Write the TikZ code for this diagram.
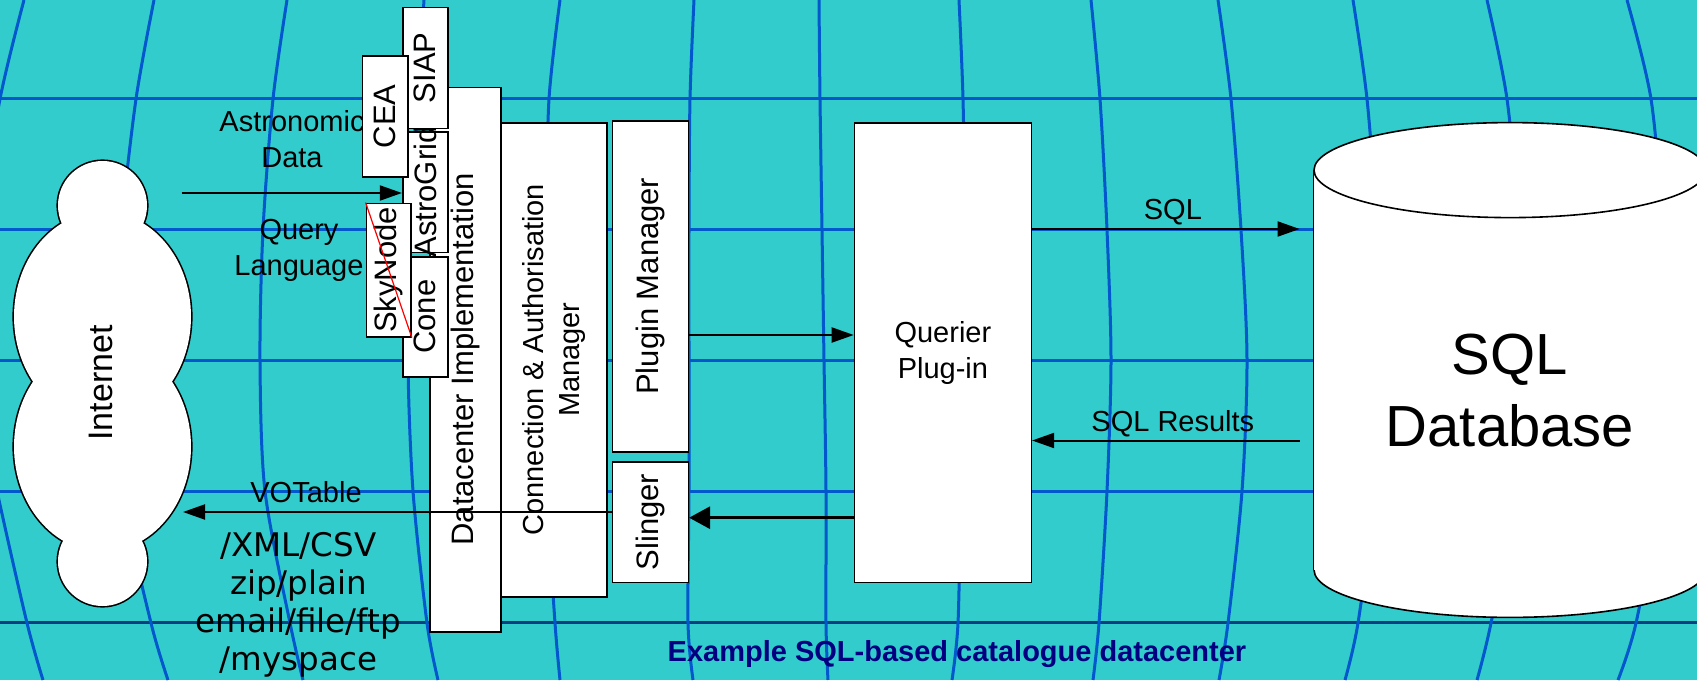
\documentclass[tikz,border=0pt]{standalone}
\usepackage{fontspec}
\setmainfont{Liberation Sans}
\newfontfamily\verdfont{DejaVu Sans}
\usepackage{tikz}
\usetikzlibrary{math,calc,arrows.meta}
\definecolor{SeaBg}{RGB}{51,204,204}
\definecolor{MeshBlue}{RGB}{0,88,204}
\definecolor{MeshDark}{RGB}{0,64,128}
\definecolor{CapNavy}{RGB}{0,0,128}
\tikzset{%
  px/.style={x=0.5pt,y=-0.5pt},
  mesh lines/.style={line width=1.5pt, draw=MeshBlue},
  tbox/.style={draw=black, fill=white, line width=0.8pt, inner sep=0pt},
  rbox/.style={tbox, rotate=90},
  flow/.style={line width=1pt, -{Triangle[length=11pt,width=7.5pt]}},
  bigflow/.style={line width=1.5pt, -{Triangle[length=10.5pt,width=11pt]}},
  lbl/.style={font=\fontsize{14.5}{18}\selectfont},
  slbl/.style={font=\fontsize{15.5}{18}\selectfont}
}

\begin{document}
\begin{tikzpicture}[px]
    \tikzmath{
      \picw=1697; \pich=680;
      \yastro=193;% query arrow
      \yplug=335;% plugin to querier
      \ysql=229;\yres=440.5;
      \yvo=512;\yslg=517.7;
    }
    % Backdrop.
    \useasboundingbox[fill=SeaBg] (0,0) rectangle (\picw,\pich);
    \clip (0,0) rectangle (\picw,\pich);
    % Mesh.
    \foreach \yy in {98.5,229.5,360.5,491.5}
      \draw[mesh lines,line width=1.7pt] (0,\yy) -- (\picw,\yy);
    \draw[mesh lines,line width=1.7pt,draw=MeshDark] (0,622.7) -- (\picw,622.7);
    \foreach \pa/\pb/\pc/\pd/\pe/\pf/\pg in {24/0/-20/-30/-3/27/43,
        154/136/121/112/122/151/168, 287/273/263/260/265/290/303,
        424/418/411/408/413/427/438, 560/549/546/545/547/555/560,
        694/690/689/689/689/688/693, 819/820/822/824/826/826/828,
        959/963/965/965/961/958/952, 1091/1100/1107/1111/1107/1099/1093,
        1218/1231/1241/1247/1242/1228/1219, 1353/1367/1377/1382/1375/1358/1345,
        1487/1507/1519/1525/1515/1491/1477, 1627/1651/1663/1670/1660/1636/1618}
      \draw[mesh lines] plot[smooth] coordinates
        {(\pa,0) (\pb,99) (\pc,230) (\pd,360) (\pe,491) (\pf,623) (\pg,680)};
    % Internet cloud.
    \foreach \cy/\rx/\ry in {316.6/88.5/105, 446.7/88.5/105, 205.5/44.5/44.5, 561.5/44.5/44.5}
      \draw[line width=1.6pt] (102.5,\cy) ellipse[x radius=\rx, y radius=\ry];
    \foreach \cy/\rx/\ry in {316.6/88.5/105, 446.7/88.5/105, 205.5/44.5/44.5, 561.5/44.5/44.5}
      \fill[white] (102.5,\cy) ellipse[x radius=\rx, y radius=\ry];
    \node[rotate=90,font=\fontsize{17}{20}\selectfont] (net) at (100.7,383) {Internet};
    % Labels on the left.
    \node[lbl, align=center] (astro) at (292,138.7) {Astronomic\\Data};
    \node[lbl, align=center] (qlang) at (299,250.5) {Query\\Language};
    \node[lbl] (vot) at (306,492.5) {VOTable};
    \node[font=\verdfont\fontsize{16.25}{19}\selectfont, align=center] (fmts) at (298.5,605.3)
      {/XML/CSV\\zip/plain\\email/file/ftp\\/myspace};
    % Datacenter stack.
    \node[rbox, slbl, minimum width=272.2pt, minimum height=35.4pt] (dci) at (465.4,359.5)
      {Datacenter Implementation};
    \node[rbox, lbl, align=center, minimum width=237pt, minimum height=53pt] (cam) at (554,359.7)
      {Connection \& Authorisation\\Manager};
    \node[rbox, slbl, minimum width=60.3pt, minimum height=22.5pt] (agrid) at (425.2,192)
      {\makebox[0pt]{AstroGrid}};
    \node[rbox, slbl, minimum width=60.5pt, minimum height=22.5pt] (siap) at (425.2,67.8) {SIAP};
    \node[rbox, slbl, minimum width=60pt, minimum height=22.5pt] (cone) at (425.2,316.7) {Cone};
    \node[rbox, slbl, minimum width=60.3pt, minimum height=22.7pt] (cea) at (385,116.4) {CEA};
    \node[rbox, slbl, minimum width=66.7pt, minimum height=22.3pt] (sky) at (388.7,270) {SkyNode};
    \draw[red, line width=0.6pt] (sky.north east) -- (sky.south west);
    \node[rbox, slbl, minimum width=165.5pt, minimum height=38pt] (plug) at (650.3,286.2)
      {Plugin Manager};
    \node[rbox, slbl, minimum width=60.3pt, minimum height=38pt] (sling) at (650.3,522) {Slinger};
    \node[tbox, lbl, align=center, minimum width=88.4pt, minimum height=229.8pt] (qp)
      at (942.9,352.5) {Querier\\Plug-in};
    % Database.
    \node[minimum width=196pt, minimum height=247pt, inner sep=0pt] (db) at (1510,370) {};
    \fill[white,draw=black,line width=0.8pt] ($(db.south)+(0,-47.5)$) ellipse[x radius=196, y radius=47.5];
    \fill[white] ($(db.north west)+(0,47.5)$) rectangle ($(db.south east)+(0,-47.5)$);
    \draw[line width=0.8pt] ($(db.north west)+(0,47.5)$) -- ($(db.south west)+(0,-47.5)$);
    \fill[white,draw=black,line width=0.8pt] ($(db.north)+(0,47.5)$) ellipse[x radius=196, y radius=47.5];
    \node[font=\fontsize{29}{36}\selectfont, align=center] (dbtxt) at ($(db)+(0,21)$) {SQL\\Database};
    % Flows.
    \coordinate (qin) at (181.7,\yastro);
    \draw[flow] (qin) -- (qin -| agrid.north);
    \draw[flow] (plug.south |- 0,\yplug) -- (qp.west |- 0,\yplug);
    \draw[flow,shorten >=7pt] (qp.east |- 0,\ysql) -- (db.west |- 0,\ysql)
      node[lbl, midway, above=1.5pt, inner sep=0pt] (sqlt) {SQL};
    \draw[flow,shorten <=7pt] (db.west |- 0,\yres) -- (qp.east |- 0,\yres)
      node[lbl, midway, above=1.5pt, inner sep=0pt] (rest) {SQL Results};
    \draw[bigflow] (qp.west |- 0,\yslg) -- (sling.south |- 0,\yslg);
    \coordinate (voout) at (183,\yvo);
    \draw[flow] (sling.north |- voout) -- (voout);
    % Caption.
    \node[font=\bfseries\fontsize{14.5}{18}\selectfont, text=CapNavy] (cap) at (957,654.5)
      {Example SQL-based catalogue datacenter};
\end{tikzpicture}
\end{document}
